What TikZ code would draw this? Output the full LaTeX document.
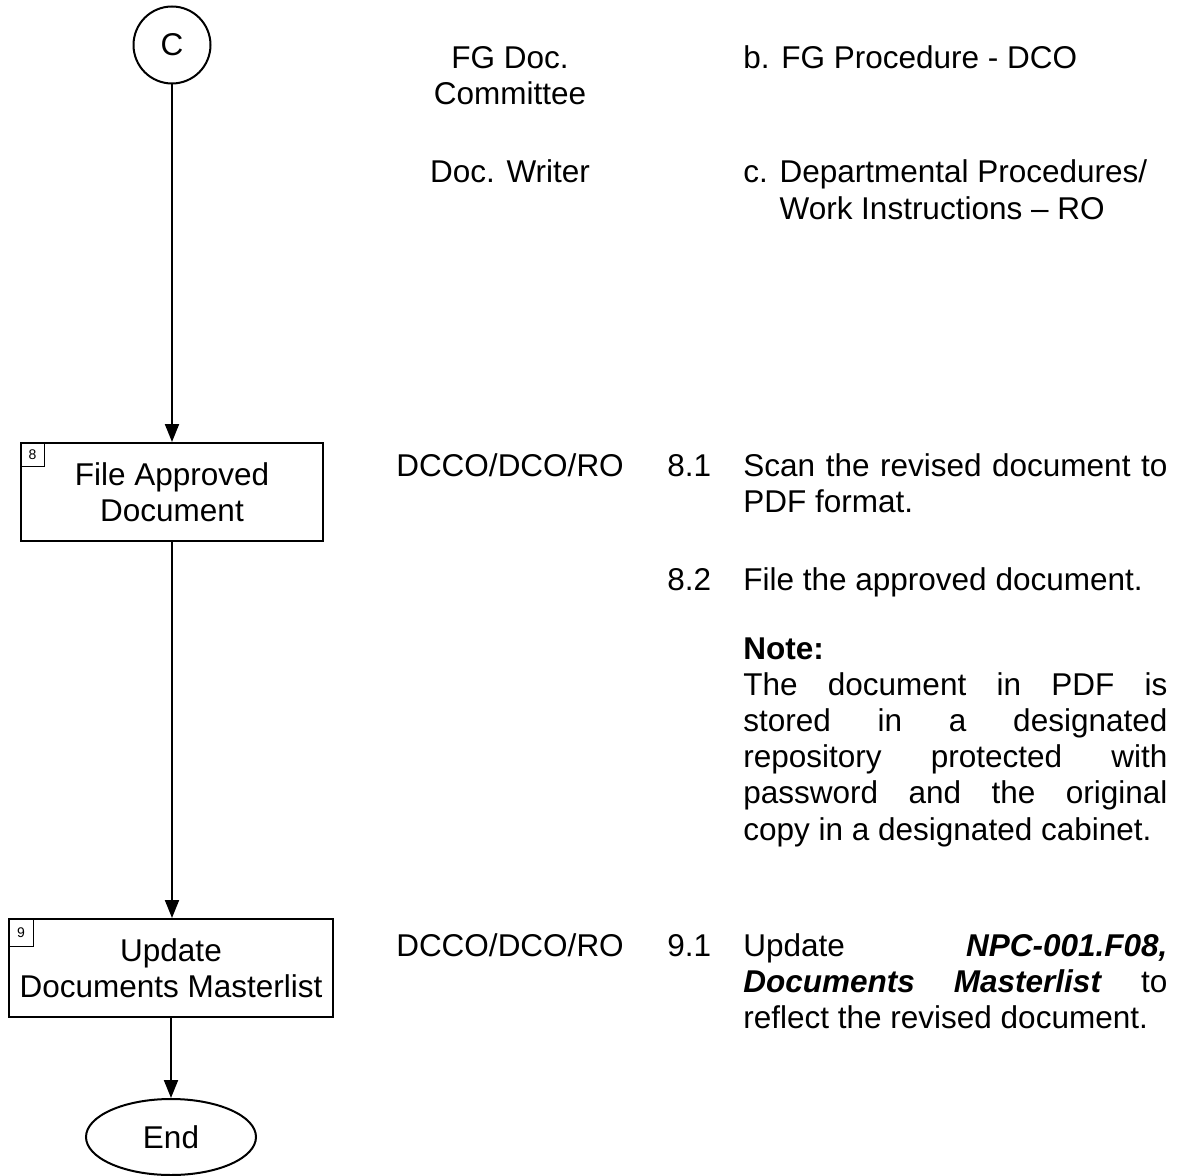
\documentclass[tikz,border=0pt]{standalone}
\usepackage{fontspec}
\setmainfont{Liberation Sans}
\usetikzlibrary{arrows.meta,shapes.geometric}
\tolerance=10000
\hyphenpenalty=10000
\begin{document}
\begin{tikzpicture}[x=0.5pt,y=-0.5pt,
  every node/.style={inner sep=0pt, font=\fontsize{15.75}{18.1}\selectfont},
  flow/.style={draw, line width=1pt},
  stepbox/.style={flow, rectangle, minimum height=49pt, align=center},
  numbox/.style={draw, line width=0.6pt, anchor=north west,
    font=\fontsize{7}{8}\selectfont},
  conn/.style={line width=1pt, -{Triangle[width=7pt,length=9pt]}},
  lbl/.style={anchor=base west},
  actor/.style={anchor=base, align=center},
  para/.style={anchor=base west, text width=212pt, align=justify}
]
\useasboundingbox (0,0) rectangle (1177,1176);

% flow chain
\node[flow, circle, minimum size=38.5pt] (c) at (172,45) {C};
\node[stepbox, minimum width=151pt] (s8) at (172,492) {File Approved\\Document};
\node[numbox, minimum width=12pt, minimum height=12pt] (k8) at (s8.north west) {8};
\node[stepbox, minimum width=162pt] (s9) at (171,968) {Update\\Documents Masterlist};
\node[numbox, minimum width=12.5pt, minimum height=14pt] (k9) at (s9.north west) {9};
\node[flow, ellipse, minimum width=85pt, minimum height=38pt] (end) at (171,1137) {End};

\draw[conn] (c.south) -- (c.south |- s8.north);
\draw[conn] (s8.south) -- (s8.south |- s9.north);
\draw[conn] (s9.south) -- (s9.south |- end.north);

% responsibilities and procedure notes
% (a multi-line centred label sits on the baseline of its last line)
\node[actor] (a1) at (510,105) {FG Doc.\\Committee};
\node[lbl] (t1) at (743,69) {b. FG Procedure - DCO};
\node[actor] (a2) at (510,183) {Doc. Writer};
\node[lbl] (t2) at (743,183) {c. \begin{tabular}[t]{@{}l@{}}Departmental Procedures/\\Work Instructions -- RO\end{tabular}};

\node[actor] (a8) at (510,476) {DCCO/DCO/RO};
\node[lbl] (n81) at (667,476) {8.1};
\node[para] (p81) at (743,476) {Scan the revised document to\linebreak PDF format.};
\node[lbl] (n82) at (667,590) {8.2};
\node[para] (p82) at (743,590) {File the approved document.};
\node[para] (note) at (743,659) {\textbf{Note:}\newline The document in PDF is\linebreak stored in a designated\linebreak repository protected with\linebreak password and the original\linebreak copy in a designated cabinet.};

\node[actor] (a9) at (510,956) {DCCO/DCO/RO};
\node[lbl] (n91) at (667,956) {9.1};
\node[para] (p91) at (743,956) {Update \textbf{\textit{NPC-001.F08,}}\linebreak \textbf{\textit{Documents Masterlist}} to\linebreak reflect the revised document.};
\end{tikzpicture}
\end{document}
